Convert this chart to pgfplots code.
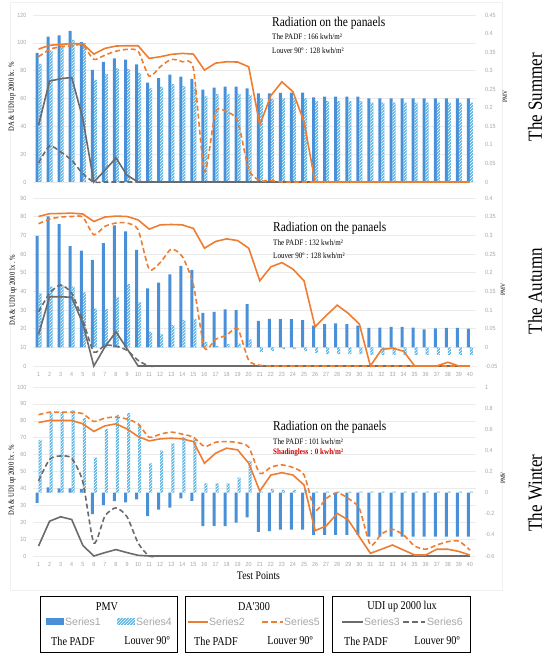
\documentclass[border=0pt]{standalone}
\usepackage{pgfplots}
\pgfplotsset{compat=1.18}
\usepackage{pgfplotstable}
\usepackage{fontspec}
\setmainfont{Liberation Serif}
\newfontfamily\cserif[FakeStretch=0.85]{Liberation Serif}
\newfontfamily\tsans[FakeStretch=0.9]{Liberation Sans}
\newfontfamily\lsans{Liberation Sans}
\usetikzlibrary{patterns}
\definecolor{pmvblue}{HTML}{4A90D9}
\definecolor{hatchblue}{HTML}{5BB5E8}
\definecolor{dorange}{HTML}{ED7D31}
\definecolor{udigray}{HTML}{6B6B6B}
\definecolor{tickgray}{HTML}{A6A6A6}
\definecolor{gridgray}{HTML}{EBEBEB}

\pgfplotstableread{
n s1 s4 s2 s5 s3 s6
1 0.348 0.318 95.5 90.0 40.8 13.7
2 0.392 0.354 98.2 95.3 72.5 25.9
3 0.395 0.368 98.9 97.2 74.2 21.6
4 0.407 0.383 99.4 97.9 75.1 15.6
5 0.377 0.374 99.4 98.4 45.6 6.0
6 0.302 0.275 91.9 88.1 0 0
7 0.324 0.291 96.0 91.2 8.4 0
8 0.333 0.306 97.7 94.0 17.3 0
9 0.330 0.304 97.9 95.3 4.8 0
10 0.317 0.294 97.9 94.0 0 0
11 0.268 0.252 88.8 76.0 0 0
12 0.280 0.256 90.0 82.8 0 0
13 0.289 0.264 91.7 88.1 0 0
14 0.284 0.258 92.4 86.4 0 0
15 0.278 0.255 91.9 81.6 0 0
16 0.249 0.231 80.4 7.5 0 0
17 0.254 0.237 85.4 50.4 0 0
18 0.257 0.237 86.4 50.4 0 0
19 0.257 0.237 86.2 44.0 0 0
20 0.252 0.234 82.8 9.0 0 0
21 0.239 0.225 41.0 1.0 0 0
22 0.239 0.224 62.0 1.0 0 0
23 0.240 0.225 72.0 0 0 0
24 0.241 0.225 64.8 0 0 0
25 0.241 0.225 43.2 0 0 0
26 0.228 0.218 0 0 0 0
27 0.230 0.218 0 0 0 0
28 0.230 0.218 0 0 0 0
29 0.230 0.218 0 0 0 0
30 0.230 0.218 0 0 0 0
31 0.225 0.214 0 0 0 0
32 0.225 0.214 0 0 0 0
33 0.225 0.214 0 0 0 0
34 0.225 0.214 0 0 0 0
35 0.225 0.214 0 0 0 0
36 0.225 0.214 0 0 0 0
37 0.225 0.214 0 0 0 0
38 0.225 0.214 0 0 0 0
39 0.225 0.214 0 0 0 0
40 0.225 0.214 0 0 0 0
}\summer

\pgfplotstableread{
n s1 s4 s2 s5 s3 s6
1 0.2985 0.1445 80.1 76.2 16.9 29.0
2 0.3505 0.1625 81.6 78.7 37.1 38.9
3 0.330 0.167 81.7 79.8 37.1 43.4
4 0.271 0.1625 81.9 80.1 36.8 38.9
5 0.259 0.147 81.4 79.8 22.8 24.6
6 0.234 0.104 77.4 70.3 0 7.5
7 0.279 0.1025 79.8 74.8 10.2 11.1
8 0.3265 0.134 80.3 76.6 18.3 10.6
9 0.3105 0.1695 80.1 76.6 9.3 8.4
10 0.261 0.1205 78.3 73.0 0 3.0
11 0.158 0.0415 73.3 51.8 0 0
12 0.173 0.035 75.6 55.4 0 0
13 0.1955 0.0595 75.8 62.6 0 0
14 0.218 0.073 75.6 58.6 0 0
15 0.2075 0.0765 73.7 43.4 0 0
16 0.0925 0.0145 63.1 9.7 0 0
17 0.095 0.004 66.7 14.3 0 0
18 0.1015 0.0085 68.1 16.5 0 0
19 0.0995 0.010 67.2 20.1 0 0
20 0.116 0.021 63.1 3.0 0 0
21 0.071 -0.0125 45.7 0.4 0 0
22 0.0765 -0.0095 53.1 0 0 0
23 0.0758 -0.005 55.4 0 0 0
24 0.0758 -0.005 51.9 0 0 0
25 0.073 -0.010 45.6 0 0 0
26 0.058 -0.015 21.0 0 0 0
27 0.062 -0.018 27.0 0 0 0
28 0.064 -0.018 32.6 0 0 0
29 0.062 -0.018 28.2 0 0 0
30 0.058 -0.018 22.5 0 0 0
31 0.052 -0.020 0 0 0 0
32 0.053 -0.020 8.8 0 0 0
33 0.055 -0.020 9.6 0 0 0
34 0.055 -0.020 7.9 0 0 0
35 0.053 -0.020 0 0 0 0
36 0.048 -0.020 0 0 0 0
37 0.051 -0.020 0 0 0 0
38 0.052 -0.020 2.0 0 0 0
39 0.052 -0.020 0 0 0 0
40 0.050 -0.020 0 0 0 0
}\autumn

\pgfplotstableread{
n s1 s4 s2 s5 s3 s6
1 -0.096 0.499 79.0 83.6 5.9 44.4
2 0.050 0.753 80.2 85.1 20.6 57.2
3 0.040 0.762 80.2 85.1 23.2 59.2
4 0.040 0.778 80.2 85.1 21.6 57.8
5 0.034 0.705 78.2 84.2 6.3 44.0
6 -0.203 0.331 73.7 79.6 0 7.7
7 -0.118 0.600 77.0 81.6 2.0 23.6
8 -0.080 0.737 78.2 82.2 3.8 28.5
9 -0.093 0.753 75.2 81.0 2.0 23.2
10 -0.064 0.651 70.7 78.2 0.4 7.7
11 -0.222 0.278 68.1 70.3 0 0
12 -0.160 0.398 69.3 72.1 0 0
13 -0.141 0.467 69.7 73.3 0 0
14 -0.055 0.525 69.3 72.1 0 0
15 -0.077 0.506 67.7 70.3 0 0
16 -0.318 0.088 54.9 64.8 0 0
17 -0.315 0.088 60.8 67.3 0 0
18 -0.318 0.088 63.8 67.7 0 0
19 -0.283 0.141 62.8 67.1 0 0
20 -0.235 0.300 54.9 64.4 0 0
21 -0.371 0.010 38.4 48.9 0 0
22 -0.365 0.034 47.9 52.5 0 0
23 -0.350 0.025 49.3 53.9 0 0
24 -0.350 0.025 47.9 52.3 0 0
25 -0.350 0.025 42.0 48.0 0 0
26 -0.400 0.010 15.0 27.2 0 0
27 -0.400 0.010 17.8 34.0 0 0
28 -0.400 0.010 25.2 37.5 0 0
29 -0.400 0.010 21.3 34.0 0 0
30 -0.400 0.010 11.4 28.2 0 0
31 -0.417 0.010 1.6 6.5 0 0
32 -0.417 0.010 4.0 13.0 0 0
33 -0.417 0.010 6.5 15.8 0 0
34 -0.417 0.010 3.5 12.4 0 0
35 -0.417 0.010 0.6 5.9 0 0
36 -0.417 0.010 0.6 4.0 0 0
37 -0.417 0.010 4.0 6.5 0 0
38 -0.417 0.010 4.0 8.5 0 0
39 -0.417 0.010 2.7 8.8 0 0
40 -0.417 0.010 0.5 3.5 0 0
}\winter

\pgfplotsset{
  panel/.style={scale only axis, width=442.5pt, xmin=0.5, xmax=40.5,
    axis line style={draw=none}, major tick length=0pt,
    ticklabel style={font=\tsans\fontsize{6}{7}\selectfont, text=tickgray},
    /pgf/number format/assume math mode=true, xtick={1,...,40}},
  gridaxis/.style={panel, ymajorgrids, grid style={gridgray, line width=0.5pt},
    yticklabel style={xshift=-3pt}, xticklabel style={yshift=-3pt}},
  baraxis/.style={panel, ybar, bar width=3pt, yticklabel pos=right,
    yticklabel style={xshift=6pt}, xticklabels={}},
  lineaxis/.style={panel, hide axis, clip=false},
  s1/.style={fill=pmvblue, draw=none, bar shift=-1.5pt},
  s4/.style={fill=hatchblue, draw=none, bar shift=1.5pt,
    postaction={pattern=north east lines, pattern color=white}},
  s2/.style={dorange, line width=1.6pt, no markers},
  s5/.style={dorange, line width=1.6pt, dash pattern=on 5pt off 3pt, no markers, smooth, tension=0.4},
  s3/.style={udigray, line width=1.6pt, no markers},
  s6/.style={udigray, line width=1.6pt, dash pattern=on 5pt off 3pt, no markers, smooth, tension=0.4},
}

\begin{document}
\begin{tikzpicture}[x=1pt,y=1pt]
\path[use as bounding box] (0pt,0pt) rectangle (550pt,661pt);
\draw[gray!12, line width=0.6pt] (10pt,71pt) rectangle (502pt,659pt);

% ---------------- Summer ----------------
\begin{axis}[gridaxis, at={(33pt,479pt)}, anchor=south west, height=167pt,
  ymin=0, ymax=120, ytick={0,20,...,120}, xticklabels={}]
\end{axis}
\begin{axis}[baraxis, at={(33pt,479pt)}, anchor=south west, height=167pt,
  ymin=0, ymax=0.45, ytick={0,0.05,0.1,0.15,0.2,0.25,0.3,0.35,0.4,0.45},
  yticklabels={0,0.05,0.1,0.15,0.2,0.25,0.3,0.35,0.4,0.45}]
  \addplot[s1] table[x=n,y=s1]{\summer};
  \addplot[s4] table[x=n,y=s4]{\summer};
\end{axis}
\begin{axis}[lineaxis, at={(33pt,479pt)}, anchor=south west, height=167pt, ymin=0, ymax=120]
  \addplot[s3] table[x=n,y=s3]{\summer};
  \addplot[s6] table[x=n,y=s6]{\summer};
  \addplot[s5] table[x=n,y=s5]{\summer};
  \addplot[s2] table[x=n,y=s2]{\summer};
\end{axis}

% ---------------- Autumn ----------------
\begin{axis}[gridaxis, at={(33pt,295pt)}, anchor=south west, height=168pt,
  ymin=0, ymax=90, ytick={0,10,...,90}]
\end{axis}
\begin{axis}[baraxis, at={(33pt,295pt)}, anchor=south west, height=168pt,
  ymin=-0.05, ymax=0.4, ytick={-0.05,0,0.05,0.1,0.15,0.2,0.25,0.3,0.35,0.4},
  yticklabels={-0.05,0,0.05,0.1,0.15,0.2,0.25,0.3,0.35,0.4}]
  \addplot[s1] table[x=n,y=s1]{\autumn};
  \addplot[s4] table[x=n,y=s4]{\autumn};
\end{axis}
\begin{axis}[lineaxis, at={(33pt,295pt)}, anchor=south west, height=168pt, ymin=0, ymax=90]
  \addplot[s3] table[x=n,y=s3]{\autumn};
  \addplot[s6] table[x=n,y=s6]{\autumn};
  \addplot[s5] table[x=n,y=s5]{\autumn};
  \addplot[s2] table[x=n,y=s2]{\autumn};
\end{axis}

% ---------------- Winter ----------------
\begin{axis}[gridaxis, at={(33pt,105pt)}, anchor=south west, height=169pt,
  ymin=0, ymax=100, ytick={0,10,...,100}]
\end{axis}
\begin{axis}[baraxis, at={(33pt,105pt)}, anchor=south west, height=169pt,
  ymin=-0.6, ymax=1, ytick={-0.6,-0.4,-0.2,0,0.2,0.4,0.6,0.8,1},
  yticklabels={-0.6,-0.4,-0.2,0,0.2,0.4,0.6,0.8,1}]
  \addplot[s1] table[x=n,y=s1]{\winter};
  \addplot[s4] table[x=n,y=s4]{\winter};
\end{axis}
\begin{axis}[lineaxis, at={(33pt,105pt)}, anchor=south west, height=169pt, ymin=0, ymax=100]
  \addplot[s3] table[x=n,y=s3]{\winter};
  \addplot[s6] table[x=n,y=s6]{\winter};
  \addplot[s5] table[x=n,y=s5]{\winter};
  \addplot[s2] table[x=n,y=s2]{\winter};
\end{axis}

% ---------------- Texts ----------------
\begin{scope}[every node/.style={anchor=west, inner sep=0pt}]
\node[font=\cserif\fontsize{13.5}{15}\selectfont] at (272pt,638pt) {Radiation on the panaels};
\node[font=\cserif\fontsize{8.3}{9}\selectfont] at (272pt,624pt) {The PADF : 166 kwh/m²};
\node[font=\cserif\fontsize{8.3}{9}\selectfont] at (272pt,610pt) {Louver 90º : 128 kwh/m²};
\node[font=\cserif\fontsize{13.5}{15}\selectfont] at (273pt,433pt) {Radiation on the panaels};
\node[font=\cserif\fontsize{8.3}{9}\selectfont] at (273pt,418pt) {The PADF : 132 kwh/m²};
\node[font=\cserif\fontsize{8.3}{9}\selectfont] at (273pt,405pt) {Louver 90º : 128 kwh/m²};
\node[font=\cserif\fontsize{13.5}{15}\selectfont] at (273pt,234pt) {Radiation on the panaels};
\node[font=\cserif\fontsize{8.3}{9}\selectfont] at (273pt,219pt) {The PADF : 101 kwh/m²};
\node[font=\cserif\bfseries\fontsize{8.3}{9}\selectfont, text={rgb,255:red,200;green,0;blue,0}] at (273pt,208pt) {Shadingless : 0 kwh/m²};
\end{scope}

\begin{scope}[every node/.style={rotate=90, inner sep=0pt}]
\node[font=\cserif\fontsize{7.8}{9}\selectfont] at (12pt,564pt) {DA \& UDI up 2000 lx. \%};
\node[font=\cserif\fontsize{7.8}{9}\selectfont] at (13pt,371pt) {DA \& UDI up 2000 lx . \%};
\node[font=\cserif\fontsize{7.8}{9}\selectfont] at (12pt,181pt) {DA \& UDI up 2000 lx . \%};
\node[font=\cserif\fontsize{6.5}{7}\selectfont] at (505pt,564pt) {PMV};
\node[font=\cserif\fontsize{6.5}{7}\selectfont] at (503pt,371pt) {PMV};
\node[font=\cserif\fontsize{6.5}{7}\selectfont] at (503pt,183pt) {PMV};
\node[font=\cserif\fontsize{20}{22}\selectfont] at (535pt,564pt) {The Summer};
\node[font=\cserif\fontsize{20}{22}\selectfont] at (535pt,370pt) {The Autumn};
\node[font=\cserif\fontsize{20}{22}\selectfont] at (535pt,168pt) {The Winter};
\end{scope}

\node[font=\cserif\fontsize{11.5}{13}\selectfont, inner sep=0pt] at (258.5pt,85pt) {Test Points};

% ---------------- Legend ----------------
\draw[line width=0.9pt] (40pt,9pt) rectangle (177pt,65pt);
\draw[line width=0.9pt] (185pt,9pt) rectangle (323pt,65pt);
\draw[line width=0.9pt] (332pt,9pt) rectangle (470pt,65pt);
\begin{scope}[every node/.style={inner sep=0pt, font=\cserif\fontsize{12}{13}\selectfont}]
\node at (107pt,54pt) {PMV};
\node at (254pt,54pt) {DA'300};
\node at (402pt,54pt) {UDI up 2000 lux};
\node at (73pt,20pt) {The PADF};
\node at (147pt,20pt) {Louver 90º};
\node at (216pt,20pt) {The PADF};
\node at (290pt,20pt) {Louver 90º};
\node at (366pt,20pt) {The PADF};
\node at (437pt,20pt) {Louver 90º};
\end{scope}
\fill[pmvblue] (46pt,35.5pt) rectangle (64pt,42.5pt);
\fill[hatchblue] (117pt,35.5pt) rectangle (135pt,42.5pt);
\path[pattern=north east lines, pattern color=white] (117pt,35.5pt) rectangle (135pt,42.5pt);
\draw[dorange, line width=1.8pt] (188pt,39pt) -- (208pt,39pt);
\draw[dorange, line width=1.8pt, dash pattern=on 6pt off 3pt] (262pt,39pt) -- (283pt,39pt);
\draw[udigray, line width=1.8pt] (342pt,39pt) -- (363pt,39pt);
\draw[udigray, line width=1.8pt, dash pattern=on 6pt off 3pt] (403pt,39pt) -- (425pt,39pt);
\begin{scope}[every node/.style={anchor=west, inner sep=0pt, text=tickgray, font=\lsans\fontsize{10.5}{12}\selectfont}]
\node at (65pt,39pt) {Series1};
\node at (136pt,39pt) {Series4};
\node at (209pt,39pt) {Series2};
\node at (284pt,39pt) {Series5};
\node at (364pt,39pt) {Series3};
\node at (427pt,39pt) {Series6};
\end{scope}
\end{tikzpicture}
\end{document}
